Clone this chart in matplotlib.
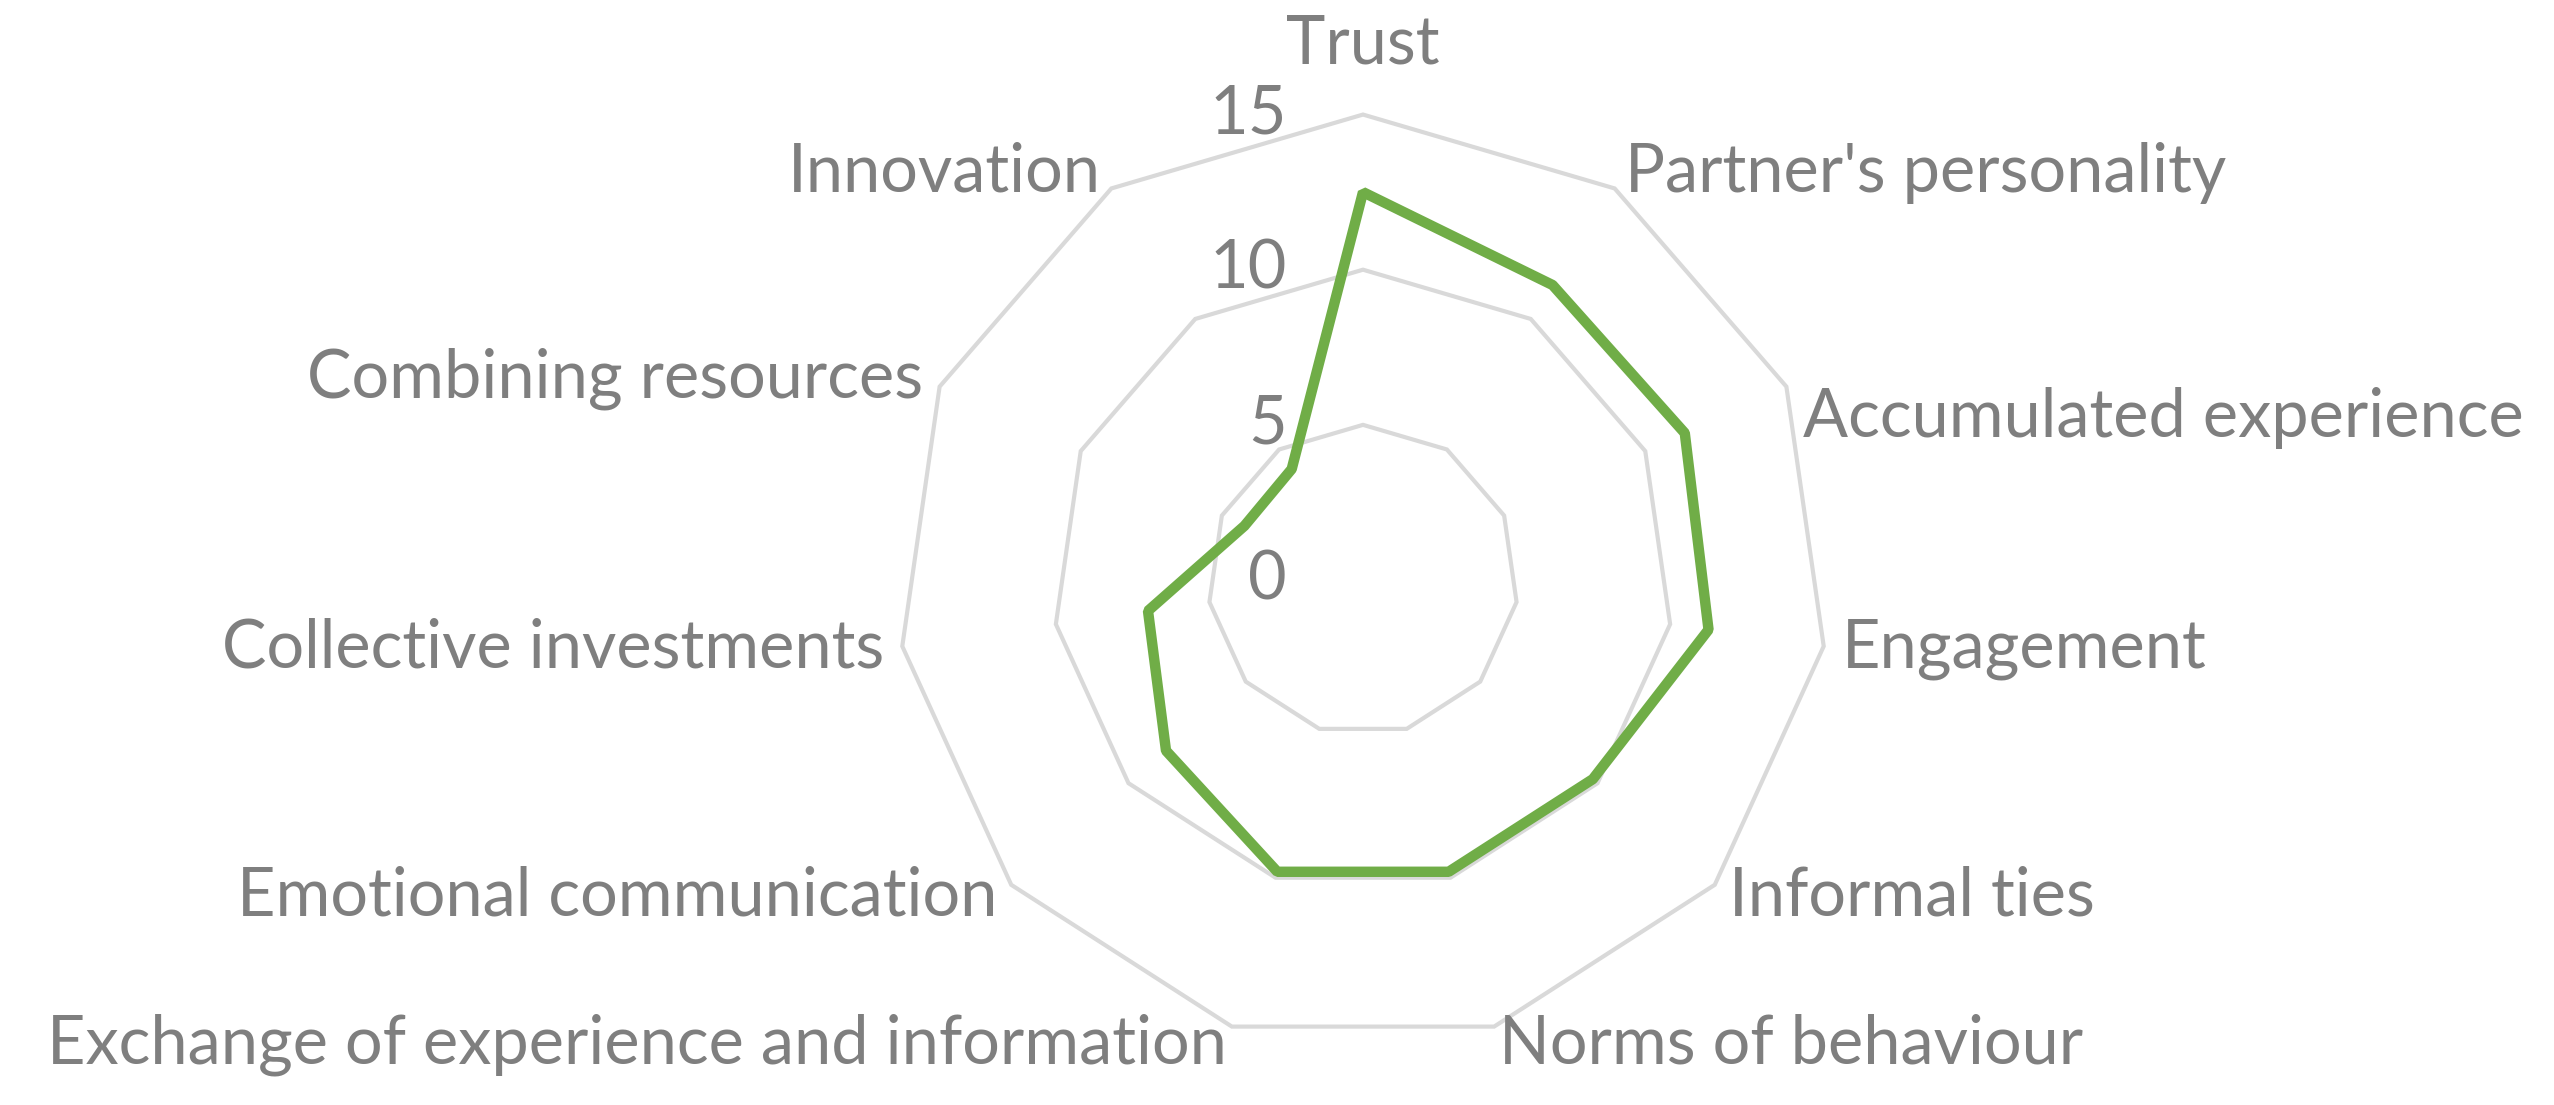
# Radar chart of relationship factors (Excel style, 11 spokes)
import matplotlib
matplotlib.use("Agg")
import matplotlib.pyplot as plt
from matplotlib.patches import Polygon
import numpy as np

categories = ["Trust", "Partner's personality", "Accumulated experience",
              "Engagement", "Informal ties", "Norms of behaviour",
              "Exchange of experience and information", "Emotional communication",
              "Collective investments", "Combining resources", "Innovation"]
values = [12.5, 11.3, 11.4, 11.25, 9.8, 9.8, 9.8, 8.4, 7.0, 4.2, 4.25]
ring_ticks = [0, 5, 10, 15]

text_col = "#7f7f7f"
grid_col = "#d9d9d9"
line_col = "#70ad47"
plt.rcParams['font.family'] = ['Lato', 'DejaVu Sans']
fs = 48

n = len(categories)
theta = 2 * np.pi * np.arange(n) / n          # clockwise from the top
sx, sy = np.sin(theta), np.cos(theta)

fig = plt.figure(figsize=(25.54, 11.05), dpi=100)
ax = fig.add_axes([0, 0, 1, 1])
unit = 31.03                                   # px per value unit
cx, cy = 1363, 580                             # centre in px
ax.set_xlim(-cx / unit, (2554 - cx) / unit)
ax.set_ylim(-(1105 - cy) / unit, cy / unit)
ax.axis('off')

# polygon grid rings
for r in ring_ticks[1:]:
    ax.add_patch(Polygon(np.column_stack([r * sx, r * sy]), closed=True,
                         fill=False, edgecolor=grid_col, lw=3.0, zorder=1))

# ring value labels along the top spoke
for r in ring_ticks:
    ax.text(-2.45, r, str(r), ha='right', va='center', fontsize=fs,
            color=text_col, zorder=3)

# data series
v = np.array(values)
ax.add_patch(Polygon(np.column_stack([v * sx, v * sy]), closed=True,
                     fill=False, edgecolor=line_col, lw=7.5,
                     joinstyle='bevel', zorder=2))

# category labels outside the outer ring
rmax = ring_ticks[-1]
nudge = {2: -1.25}                             # Excel drops this one a bit
for i, lab in enumerate(categories):
    if abs(sx[i]) < 0.05:
        pad, ha = 2.25, 'center'
    else:
        pad = 0.6
        ha = 'left' if sx[i] > 0 else 'right'
    x = (rmax + pad) * sx[i]
    y = (rmax + pad) * sy[i] + nudge.get(i, 0)
    ax.text(x, y, lab, ha=ha, va='center', fontsize=fs, color=text_col)

plt.savefig("out.png", dpi=100)
plt.close()
